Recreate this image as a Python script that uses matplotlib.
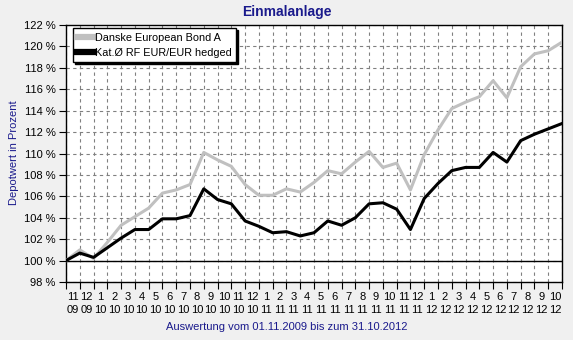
import matplotlib
matplotlib.use("Agg")
import matplotlib.pyplot as plt

month_labels = ["11", "12"] + [str(m) for m in range(1, 13)] + [str(m) for m in range(1, 13)] + [str(m) for m in range(1, 11)]
year_labels = ["09", "09"] + ["10"] * 12 + ["11"] * 12 + ["12"] * 10

danske = [100.0, 101.0, 100.2, 101.7, 103.3, 104.1, 104.9, 106.3, 106.6, 107.1,
          110.1, 109.4, 108.8, 107.1, 106.1, 106.1, 106.7, 106.4, 107.3, 108.4,
          108.1, 109.2, 110.2, 108.7, 109.1, 106.6, 109.9, 112.2, 114.2, 114.8,
          115.3, 116.8, 115.2, 118.1, 119.3, 119.6, 120.4]
kat = [100.0, 100.7, 100.3, 101.2, 102.1, 102.9, 102.9, 103.9, 103.9, 104.2,
       106.7, 105.7, 105.3, 103.7, 103.2, 102.6, 102.7, 102.3, 102.6, 103.7,
       103.3, 104.0, 105.3, 105.4, 104.8, 102.9, 105.8, 107.2, 108.4, 108.7,
       108.7, 110.1, 109.2, 111.2, 111.8, 112.3, 112.8]
series_names = ["Danske European Bond A", "Kat.\u00d8 RF EUR/EUR hedged"]
y_ticks = list(range(98, 123, 2))

plt.rcParams['font.family'] = ['Liberation Sans', 'DejaVu Sans']
plt.rcParams['font.size'] = 8

fig = plt.figure(figsize=(5.73, 3.40), dpi=100, facecolor="#f0f0f0")
ax = fig.add_axes([66 / 573, 1 - 282 / 340, (562 - 66) / 573, (282 - 25) / 340])
ax.set_facecolor("white")

x = list(range(len(danske)))
ax.set_xlim(0, len(x) - 1)
ax.set_ylim(98, 122)
ax.set_yticks(y_ticks)
ax.set_yticklabels([f"{v} %" for v in y_ticks])
ax.set_xticks(x)
ax.set_xticklabels([])
ax.set_xticks([i + 0.5 for i in range(len(month_labels))], minor=True)
ax.set_xticklabels([f"{m}\n{y}" for m, y in zip(month_labels, year_labels)], minor=True,
                   linespacing=1.45)

ax.grid(True, which="major", color="#808080", linestyle=(0, (3, 3)), linewidth=0.8)
ax.set_axisbelow(True)
ax.axhline(100, color="black", linewidth=1.0, zorder=1.5)

ax.plot(x, danske, color="#c0c0c0", linewidth=2.2, label=series_names[0], zorder=3)
ax.plot(x, kat, color="black", linewidth=2.2, label=series_names[1], zorder=3)

for s in ax.spines.values():
    s.set_color("black")
    s.set_linewidth(1.0)
ax.tick_params(axis="both", which="major", direction="out", length=5, color="black", labelcolor="black")
ax.tick_params(axis="x", which="minor", length=0, pad=7, labelsize=8)
ax.tick_params(axis="y", pad=2.5)

leg = ax.legend(loc="upper left", bbox_to_anchor=(0.014, 0.988), frameon=True, fancybox=False,
                edgecolor="black", framealpha=1, handlelength=1.5, handletextpad=0.1,
                borderpad=0.4, labelspacing=0.45, borderaxespad=0,
                shadow={'color': 'black', 'alpha': 1, 'ox': 1.5, 'oy': -1.5})
for h in leg.get_lines():
    h.set_linewidth(4.5)
leg.get_frame().set_linewidth(1.0)
for t in leg.get_texts():
    t.set_fontsize(7.8)

fig.text(0.5, 1 - 12 / 340, "Einmalanlage", ha="center", va="center",
         fontsize=10, fontweight="bold", color="#1a1a8c")
fig.text(0.5, 1 - 327 / 340, "Auswertung vom 01.11.2009 bis zum 31.10.2012",
         ha="center", va="center", fontsize=8, color="#1a1a8c")
fig.text(14 / 573, 1 - 153 / 340, "Depotwert in Prozent", ha="center", va="center",
         rotation=90, fontsize=8, color="#1a1a8c")

fig.savefig("out.png", dpi=100, facecolor=fig.get_facecolor())
